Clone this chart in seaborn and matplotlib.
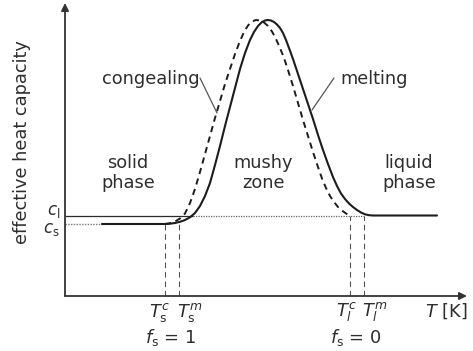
import matplotlib
matplotlib.use("Agg")
import matplotlib.pyplot as plt
import seaborn as sns

# Effective heat capacity across the mushy zone (schematic units)
c_s = 72.0      # solid-phase heat capacity
c_l = 80.5      # liquid-phase heat capacity

# transition temperatures: solidus / liquidus, congealing (c) and melting (m)
T_s_c, T_s_m = 100, 114
T_l_c, T_l_m = 285, 299

# melting branch (solid line)
T_melt = [37, 100, 105, 110, 115, 120, 125, 130, 135, 140, 145, 150, 155, 160,
          165, 170, 175, 180, 185, 189, 193, 197, 200, 203, 206, 209, 212, 215,
          218, 221, 224, 228, 233, 238, 243, 248, 253, 258, 263, 268, 272, 276,
          280, 284, 288, 292, 296, 300, 304, 308, 372]
c_melt = [72, 72, 72.3, 73, 74.2, 76, 78.7, 83, 90, 100, 113, 131, 150, 170,
          189, 208, 227, 243, 256, 264, 270, 274, 275.5, 276, 275.5, 274, 271.5, 268,
          263, 256, 248, 237, 222, 207, 192, 177, 161, 146, 132, 119, 110, 102.5,
          97, 92.5, 89, 86, 83.5, 81.7, 80.8, 80.5, 80.5]

# congealing branch (dashed line)
T_cong = [100, 105, 110, 115, 120, 125, 130, 135, 140, 145, 150, 155, 160, 165,
          170, 175, 179, 183, 187, 191, 195, 199, 203, 207, 211, 215, 219, 223,
          228, 233, 238, 243, 248, 253, 257, 261, 265, 269, 273, 277, 281, 285]
c_cong = [72, 72.8, 74.5, 77.5, 82.5, 93, 107, 124, 142, 160, 178, 195, 212, 227,
          242, 255, 264, 270.5, 274.5, 276, 275.5, 273.5, 270, 264.5, 257, 248, 238, 226,
          210, 193, 176, 160, 144, 129, 117.5, 108, 100, 94, 89, 85.5, 82.5, 80.5]

T_max, c_max = 402, 293

ink = "#1c1c1c"
txt = "#2e2e2e"
grey = "#555555"
fs = 12.8

sns.set_theme(style="white")
plt.rcParams["font.family"] = ["DejaVu Sans"]
plt.rcParams["mathtext.fontset"] = "dejavusans"

fig = plt.figure(figsize=(4.73, 3.51), dpi=100)
ax = fig.add_axes([65 / 473, 55 / 351, 402 / 473, 293 / 351])
ax.set_xlim(0, T_max)
ax.set_ylim(0, c_max)
for s in ax.spines.values():
    s.set_visible(False)
ax.set_xticks([])
ax.set_yticks([])
ax.patch.set_alpha(0)

# axes with arrow heads
arrow = dict(arrowstyle="-|>", color="#333333", lw=1.3, mutation_scale=11,
             shrinkA=0, shrinkB=0)
ax.annotate("", xy=(1, 0), xytext=(0, 0), xycoords="axes fraction",
            arrowprops=arrow, annotation_clip=False)
ax.annotate("", xy=(0, 1), xytext=(0, 0), xycoords="axes fraction",
            arrowprops=arrow, annotation_clip=False)

# reference levels c_s and c_l
ax.hlines(c_s, 0, T_melt[0], color="#777777", lw=1.0, linestyles=(0, (1, 1)))
ax.hlines(c_l, 0, 128, color="#2a2a2a", lw=0.9)
ax.hlines(c_l, 128, T_l_m, color="#666666", lw=0.9, linestyles=(0, (1, 1)))

# dashed drop lines at the transition temperatures
for T, top in [(T_s_c, c_s), (T_s_m, c_s), (T_l_c, c_l), (T_l_m, c_l)]:
    ax.vlines(T, 0, top, color=grey, lw=0.8, linestyles=(0, (5, 3.5)))

# heat capacity curves
sns.lineplot(x=T_melt, y=c_melt, sort=False, ax=ax, color=ink, lw=1.5,
             solid_joinstyle="round", solid_capstyle="round")
sns.lineplot(x=T_cong, y=c_cong, sort=False, ax=ax, color=ink, lw=1.4,
             linestyle=(0, (3.2, 2.4)))

# curve labels with leader lines
ax.text(86, 217, "congealing", ha="center", va="center", fontsize=fs, color=txt)
ax.plot([135, 152], [218, 183], color=grey, lw=0.9)
ax.text(309, 217, "melting", ha="center", va="center", fontsize=fs, color=txt)
ax.plot([269, 247], [218, 186], color=grey, lw=0.9)

# region labels
for T, label in [(63, "solid\nphase"), (198, "mushy\nzone"), (344, "liquid\nphase")]:
    ax.text(T, 123, label, ha="center", va="center", fontsize=fs, color=txt,
            linespacing=1.15)

# y-level labels
ax.text(-5, 81, r"$c_\mathrm{l}$", ha="right", va="baseline", fontsize=12, color=txt)
ax.text(-5, 63, r"$c_\mathrm{s}$", ha="right", va="baseline", fontsize=12, color=txt)

# temperature labels
ax.text(T_s_c + 5, -20.5, r"$T_\mathrm{s}^c$", ha="right", va="baseline", fontsize=fs, color=txt)
ax.text(T_s_m - 2, -20.5, r"$T_\mathrm{s}^m$", ha="left", va="baseline", fontsize=fs, color=txt)
ax.text(T_l_c + 7, -20.5, r"$T_l^c$", ha="right", va="baseline", fontsize=fs, color=txt)
ax.text(T_l_m - 2, -20.5, r"$T_l^m$", ha="left", va="baseline", fontsize=fs, color=txt)
ax.text(106, -47, r"$f_\mathrm{s}$ = 1", ha="center", va="baseline", fontsize=fs, color=txt)
ax.text(291, -47, r"$f_\mathrm{s}$ = 0", ha="center", va="baseline", fontsize=fs, color=txt)
ax.text(360, -21, r"$T$ [K]", ha="left", va="baseline", fontsize=fs, color=txt)

ax.text(-43, 154, "effective heat capacity", rotation=90, ha="center",
        va="center", fontsize=fs, color=txt)

fig.savefig("out.png", dpi=100)
